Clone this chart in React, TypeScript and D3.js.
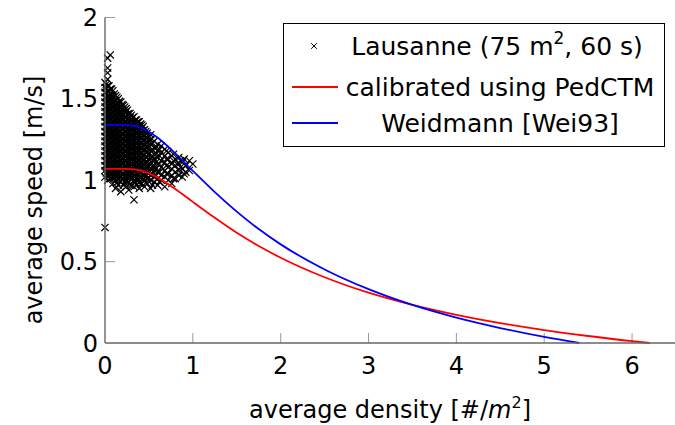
import * as d3 from "d3";

// axis ticks
const densityTicks = [0, 1, 2, 3, 4, 5, 6];
const speedTicks = [0, 0.5, 1, 1.5, 2];

// calibrated using PedCTM (red)
const pedctmDensity = [0, 0.1, 0.25, 0.3, 0.4, 0.5, 0.6, 0.75, 0.875, 1, 1.25, 1.5, 1.75, 2, 2.5, 3, 3.5, 4, 4.5, 5, 5.5, 6, 6.2];
const pedctmSpeed = [1.07, 1.07, 1.07, 1.068, 1.06, 1.042, 1.016, 0.965, 0.917, 0.867, 0.769, 0.677, 0.596, 0.524, 0.404, 0.309, 0.234, 0.173, 0.122, 0.079, 0.043, 0.011, 0];

// Weidmann [Wei93] (blue)
const weidmannDensity = [0, 0.1, 0.25, 0.3, 0.4, 0.5, 0.6, 0.75, 0.875, 1, 1.25, 1.5, 1.75, 2, 2.5, 3, 3.5, 4, 4.5, 5, 5.4];
const weidmannSpeed = [1.34, 1.34, 1.339, 1.337, 1.324, 1.298, 1.261, 1.191, 1.125, 1.058, 0.927, 0.807, 0.7, 0.606, 0.452, 0.331, 0.234, 0.156, 0.092, 0.037, 0];

// Lausanne measurements: density columns, speeds observed in each column
const lausanneDensity = [0, 0.03, 0.06, 0.09, 0.12, 0.15, 0.18, 0.21, 0.24, 0.27, 0.3, 0.33, 0.36, 0.39, 0.42, 0.45, 0.48, 0.52, 0.56, 0.6, 0.64, 0.68, 0.72, 0.76, 0.8, 0.84, 0.88, 0.92, 0.96, 1.0];
const lausanneSpeed = [
  [0.71, 1.02, 1.06, 1.09, 1.12, 1.15, 1.18, 1.21, 1.24, 1.27, 1.3, 1.33, 1.36, 1.39, 1.42, 1.45, 1.48, 1.51, 1.54, 1.57, 1.6],
  [1.0, 1.03, 1.07, 1.1, 1.13, 1.16, 1.19, 1.22, 1.25, 1.28, 1.31, 1.34, 1.37, 1.4, 1.43, 1.46, 1.49, 1.52, 1.55, 1.58, 1.62, 1.66, 1.69, 1.75],
  [1.01, 1.04, 1.08, 1.11, 1.14, 1.17, 1.2, 1.23, 1.26, 1.29, 1.32, 1.35, 1.38, 1.41, 1.44, 1.47, 1.5, 1.53, 1.56, 1.77],
  [0.98, 1.02, 1.05, 1.09, 1.12, 1.15, 1.18, 1.21, 1.24, 1.27, 1.3, 1.33, 1.36, 1.39, 1.42, 1.45, 1.48, 1.51, 1.55],
  [0.95, 1.0, 1.03, 1.06, 1.1, 1.13, 1.16, 1.19, 1.22, 1.25, 1.28, 1.31, 1.34, 1.37, 1.4, 1.43, 1.46, 1.49, 1.52],
  [0.97, 1.01, 1.04, 1.08, 1.11, 1.14, 1.17, 1.2, 1.23, 1.26, 1.29, 1.32, 1.35, 1.38, 1.41, 1.44, 1.47, 1.5],
  [0.93, 0.99, 1.02, 1.06, 1.09, 1.12, 1.15, 1.18, 1.21, 1.24, 1.27, 1.3, 1.33, 1.36, 1.39, 1.42, 1.45, 1.48],
  [0.97, 1.01, 1.04, 1.07, 1.1, 1.13, 1.16, 1.19, 1.22, 1.25, 1.28, 1.31, 1.34, 1.37, 1.4, 1.43, 1.46],
  [0.96, 1.0, 1.03, 1.06, 1.09, 1.12, 1.15, 1.18, 1.21, 1.24, 1.27, 1.3, 1.33, 1.36, 1.39, 1.42, 1.44],
  [0.94, 0.99, 1.02, 1.05, 1.08, 1.11, 1.14, 1.17, 1.2, 1.23, 1.26, 1.29, 1.32, 1.35, 1.38, 1.41],
  [0.97, 1.01, 1.04, 1.07, 1.1, 1.13, 1.16, 1.19, 1.22, 1.25, 1.28, 1.31, 1.34, 1.37, 1.4],
  [0.88, 0.96, 1.0, 1.03, 1.06, 1.09, 1.12, 1.15, 1.18, 1.21, 1.24, 1.27, 1.3, 1.33, 1.36, 1.39],
  [0.97, 1.01, 1.04, 1.08, 1.11, 1.14, 1.17, 1.2, 1.23, 1.26, 1.29, 1.32, 1.35, 1.37],
  [0.95, 0.99, 1.02, 1.06, 1.09, 1.12, 1.15, 1.18, 1.21, 1.24, 1.27, 1.3, 1.33, 1.36],
  [0.98, 1.02, 1.05, 1.08, 1.11, 1.14, 1.17, 1.2, 1.23, 1.26, 1.29, 1.32, 1.34],
  [0.96, 1.0, 1.03, 1.07, 1.1, 1.13, 1.16, 1.19, 1.22, 1.25, 1.28, 1.31],
  [0.98, 1.01, 1.05, 1.08, 1.11, 1.14, 1.17, 1.2, 1.23, 1.26, 1.29],
  [0.95, 1.0, 1.03, 1.07, 1.1, 1.14, 1.18, 1.22, 1.25, 1.28],
  [0.99, 1.02, 1.06, 1.09, 1.13, 1.16, 1.2, 1.24],
  [0.97, 1.01, 1.05, 1.1, 1.14, 1.18, 1.22],
  [1.0, 1.03, 1.08, 1.12, 1.17, 1.21],
  [0.96, 1.02, 1.06, 1.11, 1.15, 1.19],
  [1.0, 1.04, 1.08, 1.13, 1.17],
  [0.98, 1.03, 1.07, 1.1, 1.15],
  [1.01, 1.05, 1.09, 1.13],
  [1.03, 1.06, 1.1, 1.14],
  [1.02, 1.07, 1.11],
  [1.05, 1.09],
  [1.06, 1.12],
  [1.1],
];
// second batch of measurements, between the columns above
const lausanneDensityB = [0.015, 0.045, 0.075, 0.105, 0.135, 0.165, 0.195, 0.225, 0.255, 0.285, 0.315, 0.345, 0.375, 0.405, 0.435, 0.465, 0.5, 0.54, 0.58, 0.62, 0.7, 0.78, 0.86, 0.9];
const lausanneSpeedB = [
  [1.045, 1.085, 1.115, 1.145, 1.175, 1.205, 1.235, 1.265, 1.295, 1.325, 1.355, 1.385, 1.415, 1.445, 1.475, 1.505, 1.535, 1.565, 1.59],
  [1.025, 1.055, 1.095, 1.125, 1.155, 1.185, 1.215, 1.245, 1.275, 1.305, 1.335, 1.365, 1.395, 1.425, 1.455, 1.485, 1.515, 1.545, 1.58],
  [1.035, 1.065, 1.095, 1.135, 1.165, 1.195, 1.225, 1.255, 1.285, 1.315, 1.345, 1.375, 1.405, 1.435, 1.465, 1.495, 1.525, 1.56],
  [1.015, 1.045, 1.075, 1.105, 1.135, 1.165, 1.195, 1.225, 1.255, 1.285, 1.315, 1.345, 1.375, 1.405, 1.435, 1.465, 1.495, 1.53],
  [0.985, 1.025, 1.055, 1.085, 1.115, 1.145, 1.175, 1.205, 1.235, 1.265, 1.295, 1.325, 1.355, 1.385, 1.415, 1.445, 1.475, 1.51],
  [1.025, 1.055, 1.095, 1.125, 1.155, 1.185, 1.215, 1.245, 1.275, 1.305, 1.335, 1.365, 1.395, 1.425, 1.455, 1.485],
  [1.005, 1.035, 1.075, 1.105, 1.135, 1.165, 1.195, 1.225, 1.255, 1.285, 1.315, 1.345, 1.375, 1.405, 1.435, 1.465],
  [0.985, 1.025, 1.055, 1.085, 1.115, 1.145, 1.175, 1.205, 1.235, 1.265, 1.295, 1.325, 1.355, 1.385, 1.415, 1.45],
  [1.015, 1.045, 1.075, 1.105, 1.135, 1.165, 1.195, 1.225, 1.255, 1.285, 1.315, 1.345, 1.375, 1.405, 1.43],
  [0.975, 1.025, 1.055, 1.085, 1.115, 1.145, 1.175, 1.205, 1.235, 1.265, 1.295, 1.325, 1.355, 1.385, 1.41],
  [1.015, 1.045, 1.085, 1.115, 1.145, 1.175, 1.205, 1.235, 1.265, 1.295, 1.325, 1.355, 1.385],
  [0.985, 1.025, 1.055, 1.095, 1.125, 1.155, 1.185, 1.215, 1.245, 1.275, 1.305, 1.335, 1.37],
  [1.005, 1.035, 1.065, 1.095, 1.125, 1.155, 1.185, 1.215, 1.245, 1.275, 1.305, 1.335, 1.36],
  [0.975, 1.015, 1.045, 1.075, 1.105, 1.135, 1.165, 1.195, 1.225, 1.255, 1.285, 1.315, 1.345],
  [1.005, 1.035, 1.065, 1.095, 1.125, 1.155, 1.185, 1.215, 1.245, 1.275, 1.305, 1.33],
  [0.985, 1.025, 1.055, 1.085, 1.115, 1.145, 1.175, 1.205, 1.235, 1.265, 1.3],
  [1.015, 1.045, 1.085, 1.125, 1.16, 1.2, 1.24, 1.27],
  [0.97, 1.04, 1.08, 1.12, 1.15, 1.19, 1.23],
  [1.03, 1.07, 1.11, 1.16, 1.2],
  [0.99, 1.05, 1.1, 1.15, 1.19],
  [1.04, 1.09, 1.13, 1.18],
  [1.01, 1.12, 1.16],
  [1.08, 1.12],
  [1.04, 1.13],
];

const width = 675,
  height = 425;

const font = "'DejaVu Sans', sans-serif";

const Cross = ({ cx, cy, r }: { cx: number; cy: number; r: number }) => (
  <path d={`M${cx - r},${cy - r}L${cx + r},${cy + r}M${cx - r},${cy + r}L${cx + r},${cy - r}`} />
);

export default function App() {
  let xScale = d3.scaleLinear().domain([0, 6.5]).range([105, 676]);
  let yScale = d3.scaleLinear().domain([0, 2]).range([343, 17.5]);

  let curve = d3
    .line<[number, number]>()
    .x((d) => xScale(d[0]))
    .y((d) => yScale(d[1]))
    .curve(d3.curveMonotoneX);

  let redPath = curve(pedctmDensity.map((d, i) => [d, pedctmSpeed[i]]));
  let bluePath = curve(weidmannDensity.map((d, i) => [d, weidmannSpeed[i]]));

  let points: [number, number][] = [];
  lausanneDensity.forEach((dx, i) => lausanneSpeed[i].forEach((v) => points.push([dx, v])));
  lausanneDensityB.forEach((dx, i) => lausanneSpeedB[i].forEach((v) => points.push([dx, v])));

  let x0 = xScale(0),
    y0 = yScale(0);

  return (
    <svg
      width={width}
      height={height}
      viewBox={`0 0 ${width} ${height}`}
      style={{ position: "absolute", left: 0, top: 0, background: "white" }}
      fontFamily={font}
    >
      {/* ticks */}
      <g stroke="#999" strokeWidth={1}>
        {densityTicks.slice(1).map((t) => (
          <line key={t} x1={xScale(t)} x2={xScale(t)} y1={y0} y2={y0 - 10} />
        ))}
        {speedTicks.slice(1).map((t) => (
          <line key={t} x1={x0} x2={x0 + 10} y1={yScale(t)} y2={yScale(t)} />
        ))}
      </g>

      {/* scatter */}
      <g stroke="black" strokeWidth={1.2} fill="none">
        {points.map((p, i) => (
          <Cross key={i} cx={xScale(p[0])} cy={yScale(p[1])} r={3.6} />
        ))}
      </g>

      {/* curves */}
      <path d={redPath || ""} fill="none" stroke="#ff0000" strokeWidth={1.8} />
      <path d={bluePath || ""} fill="none" stroke="#0000ff" strokeWidth={1.8} />

      {/* axis lines */}
      <g stroke="#666" strokeWidth={1.4}>
        <line x1={x0} x2={x0} y1={yScale(2)} y2={y0} />
        <line x1={x0} x2={width} y1={y0} y2={y0} />
      </g>

      {/* tick labels */}
      <g fontSize={24} fill="black">
        {densityTicks.map((t) => (
          <text key={t} x={xScale(t)} y={374} textAnchor="middle">
            {t}
          </text>
        ))}
        {speedTicks.map((t) => (
          <text key={t} x={98} y={yScale(t) + 8.5} textAnchor="end">
            {t}
          </text>
        ))}
      </g>

      {/* axis labels */}
      <text x={390} y={418} textAnchor="middle" fontSize={24}>
        average density [#/<tspan fontStyle="italic">m</tspan>
        <tspan fontSize={16} dy={-10}>2</tspan>
        <tspan dy={10}>]</tspan>
      </text>
      <text transform="translate(42,200) rotate(-90)" textAnchor="middle" fontSize={24}>
        average speed [m/s]
      </text>

      {/* legend */}
      <g>
        <rect x={283.5} y={23.5} width={381} height={123} fill="white" stroke="black" strokeWidth={1} />
        <g stroke="black" strokeWidth={1}>
          <Cross cx={314} cy={46} r={2.8} />
        </g>
        <line x1={292} x2={338} y1={87} y2={87} stroke="#ff0000" strokeWidth={1.8} />
        <line x1={292} x2={338} y1={123} y2={123} stroke="#0000ff" strokeWidth={1.8} />
        <g fontSize={25} textAnchor="middle">
          <text x={497} y={55}>
            Lausanne (75 m<tspan fontSize={17} dy={-11}>2</tspan>
            <tspan dy={11}>, 60 s)</tspan>
          </text>
          <text x={500} y={96}>calibrated using PedCTM</text>
          <text x={500} y={132}>Weidmann [Wei93]</text>
        </g>
      </g>
    </svg>
  );
}
